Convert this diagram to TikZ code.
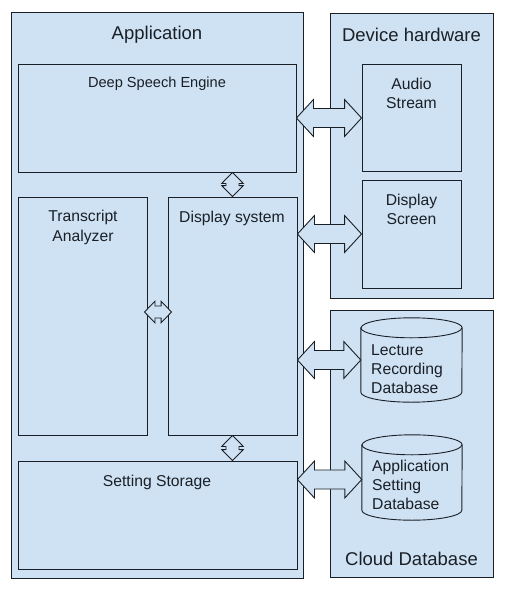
\documentclass[tikz,border=0pt]{standalone}
\usepackage{fontspec}
\setmainfont{Liberation Sans}
\usetikzlibrary{calc}
\definecolor{panelblue}{HTML}{CFE2F3}
\definecolor{edge}{HTML}{1A1F26}
\newcommand{\fatH}[5]{%
  \draw[fatarrow] let \p1=#1, \p2=#2 in
   (\x1,\y1) -- (\x1+#5pt,\y1+#3pt) -- (\x1+#5pt,\y1+#4pt) -- (\x2-#5pt,\y1+#4pt)
   -- (\x2-#5pt,\y1+#3pt) -- (\x2,\y1) -- (\x2-#5pt,\y1-#3pt) -- (\x2-#5pt,\y1-#4pt)
   -- (\x1+#5pt,\y1-#4pt) -- (\x1+#5pt,\y1-#3pt) -- cycle;}
\newcommand{\fatV}[5]{%
  \draw[fatarrow] let \p1=#1, \p2=#2 in
   (\x1,\y1) -- (\x1+#3pt,\y1-#5pt) -- (\x1+#4pt,\y1-#5pt) -- (\x1+#4pt,\y2+#5pt)
   -- (\x1+#3pt,\y2+#5pt) -- (\x1,\y2) -- (\x1-#3pt,\y2+#5pt) -- (\x1-#4pt,\y2+#5pt)
   -- (\x1-#4pt,\y1-#5pt) -- (\x1-#3pt,\y1-#5pt) -- cycle;}
\begin{document}
\begin{tikzpicture}[x=1pt,y=-1pt,
  box/.style={draw=edge, fill=panelblue, line width=0.9pt, rectangle, inner sep=0pt},
  ghost/.style={rectangle, inner sep=0pt},
  fatarrow/.style={draw=edge, fill=panelblue, line width=0.9pt, line join=miter},
  cyl/.style={draw=edge, fill=panelblue, line width=0.9pt},
  lbl/.style={inner sep=0pt, text=edge, font=\fontsize{15.7}{19.3}\selectfont},
  big/.style={inner sep=0pt, text=edge, font=\fontsize{18.5}{22}\selectfont},
  small/.style={inner sep=0pt, text=edge, font=\fontsize{14.6}{18}\selectfont}]
\useasboundingbox[fill=white] (0,0) rectangle (505,590);

% panels
\node[box, minimum width=292pt, minimum height=566pt] (app) at (157,295) {};
\node[box, minimum width=163pt, minimum height=285pt] (dev) at (411.5,155.5) {};
\node[box, minimum width=163pt, minimum height=267pt] (cloud) at (411.5,443.5) {};

% inner boxes
\node[box, minimum width=278pt, minimum height=108pt] (dse) at (157,118) {};
\node[box, minimum width=99pt, minimum height=107pt] (audio) at (411.5,117.5) {};
\node[box, minimum width=99pt, minimum height=108pt] (screen) at (411.5,234) {};
\node[box, minimum width=129pt, minimum height=238pt] (ta) at (82.5,316) {};
\node[box, minimum width=129pt, minimum height=238pt] (ds) at (232.5,316) {};
\node[box, minimum width=279pt, minimum height=108pt] (ss) at (157.5,515) {};

% cylinders
\node[ghost, minimum width=101pt, minimum height=84pt] (lrd) at (411.5,360) {};
\node[ghost, minimum width=100pt, minimum height=85pt] (asd) at (412,477.5) {};
\foreach \c/\rx in {lrd/50.5, asd/50} {
  \path[cyl] ([yshift=-10pt]\c.north west) -- ([yshift=10pt]\c.south west)
    arc[start angle=180, end angle=360, x radius=\rx pt, y radius=10pt]
    -- ([yshift=-10pt]\c.north east)
    arc[start angle=0, end angle=180, x radius=\rx pt, y radius=10pt] -- cycle;
  \draw[cyl, fill=none] ([yshift=-10pt]\c.north west)
    arc[start angle=180, end angle=360, x radius=\rx pt, y radius=10pt];
}

% connectors
\fatH{(dse.east)}{(audio.west)}{18.5}{9.5}{17}
\fatH{(ds.east |- screen.west)}{(screen.west)}{18.5}{9.5}{17}
\fatH{(ds.east |- lrd.west)}{(lrd.west)}{18.5}{9.5}{17}
\fatH{([yshift=-2pt]ss.east |- asd.west)}{([yshift=-2pt]asd.west)}{18.5}{9.5}{17}
\fatV{(ds.north |- dse.south)}{(ds.north)}{10.8}{6.5}{11}
\fatV{(ds.south)}{(ds.south |- ss.north)}{10.8}{6.5}{11}
\fatH{([xshift=-3pt,yshift=4pt]ta.east)}{([xshift=4pt,yshift=4pt]ta.east -| ds.west)}{10.8}{6}{10.5}

% texts
\node[big] (appT) at (157,34.5) {Application};
\node[big] (devT) at (411.5,34.5) {Device hardware};
\node[big] (cloudT) at (411.5,559) {Cloud Database};
\node[small] (dseT) at (157,83.5) {Deep Speech Engine};
\node[lbl, align=center] (audioT) at (411.5,93.5) {Audio\\Stream};
\node[lbl, align=center] (screenT) at (411.5,209.5) {Display\\Screen};
\node[lbl, align=center] (taT) at (83,227.5) {Transcript\\Analyzer};
\node[lbl] (dsT) at (232,218.5) {Display system};
\node[lbl] (ssT) at (157,482.5) {Setting Storage};
\node[lbl, align=left, anchor=west] (lrdT) at (371,369) {Lecture\\Recording\\Database};
\node[lbl, align=left, anchor=west] (asdT) at (372,485) {Application\\Setting\\Database};
\end{tikzpicture}
\end{document}
